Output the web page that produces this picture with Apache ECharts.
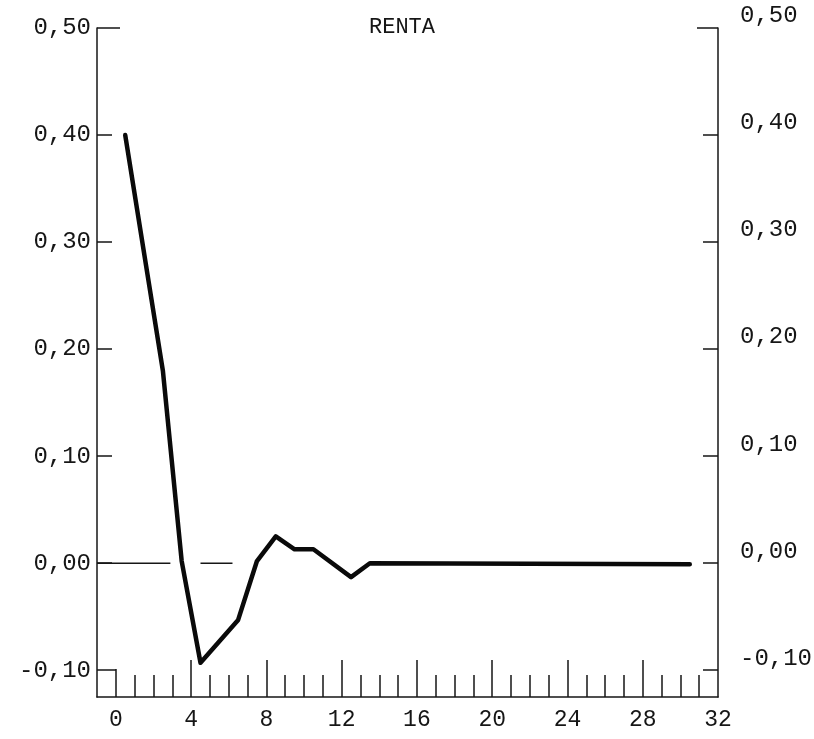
<!DOCTYPE html>
<html>
<head>
<meta charset="utf-8">
<script src="https://cdn.jsdelivr.net/npm/echarts@6/dist/echarts.min.js"></script>
<style>
  html, body { margin: 0; padding: 0; background: #fff; }
  #chart { width: 814px; height: 739px; }
</style>
</head>
<body>
<div id="chart"></div>
<script>
// lag positions of the plotted vertices and the response values
const lags = [0.5, 2.5, 3.5, 4.5, 6.5, 7.5, 8.5, 9.5, 10.5, 12.5, 13.5, 30.5]
const renta = [0.40, 0.18, 0.002, -0.093, -0.053, 0.002, 0.025, 0.013, 0.013, -0.013, 0.0, -0.001]

// tick values
const xLabelTicks = [0, 4, 8, 12, 16, 20, 24, 28, 32]
const xMajorTicks = [4, 8, 12, 16, 20, 24, 28]
const xMinorTicks = [1, 2, 3, 5, 6, 7, 9, 10, 11, 13, 14, 15, 17, 18, 19, 21, 22, 23, 25, 26, 27, 29, 30, 31]
const yLabelTicks = [-0.1, 0, 0.1, 0.2, 0.3, 0.4, 0.5]
const yInnerTicks = [0, 0.1, 0.2, 0.3, 0.4]

// the broken zero reference line (only visible on the left part)
const zeroGuideX = [-1, 2.9, null, 4.5, 6.2]

const ink = '#161616'
const font = 'Liberation Mono'

function fmt(v) {
  return v.toFixed(2).replace('.', ',')
}

function xAxisBase(extra) {
  return Object.assign({
    type: 'value',
    position: 'bottom',
    min: -1,
    max: 32,
    splitLine: { show: false },
    axisLine: { show: false, onZero: false },
    axisLabel: { show: false },
    axisTick: { show: false }
  }, extra)
}

function yAxisBase(extra) {
  return Object.assign({
    type: 'value',
    min: -0.125,
    max: 0.5,
    splitLine: { show: false },
    axisLine: { show: false, onZero: false },
    axisLabel: { show: false },
    axisTick: { show: false }
  }, extra)
}

const tickStyle = { color: ink, width: 1.5 }

const chart = echarts.init(document.getElementById('chart'))
chart.setOption({
  backgroundColor: '#fff',
  animation: false,
  title: {
    text: 'RENTA',
    left: 364,
    top: 11,
    textStyle: { fontFamily: font, fontSize: 22, fontWeight: 'normal', color: ink }
  },
  grid: { left: 97, right: 96, top: 28, bottom: 42, outerBoundsMode: 'none' },
  xAxis: [
    xAxisBase({
      axisLine: { show: true, onZero: false, lineStyle: { color: ink, width: 1.5 } },
      axisLabel: {
        show: true,
        customValues: xLabelTicks,
        showMaxLabel: true,
        margin: 11,
        fontFamily: font,
        fontSize: 23,
        color: ink
      },
      axisTick: { show: true, inside: true, length: 22, customValues: xMinorTicks, lineStyle: tickStyle }
    }),
    xAxisBase({
      axisTick: { show: true, inside: true, length: 37, customValues: xMajorTicks, lineStyle: tickStyle }
    }),
    xAxisBase({
      axisTick: { show: true, inside: true, length: 28, customValues: [0], lineStyle: tickStyle }
    })
  ],
  yAxis: [
    yAxisBase({
      position: 'left',
      axisLine: { show: true, onZero: false, lineStyle: { color: ink, width: 1.5 } },
      axisLabel: {
        show: true,
        customValues: yLabelTicks,
        formatter: fmt,
        margin: 6,
        fontFamily: font,
        fontSize: 24,
        color: ink
      },
      axisTick: { show: true, inside: true, length: 15, customValues: yInnerTicks, lineStyle: tickStyle }
    }),
    yAxisBase({
      position: 'left',
      axisTick: { show: true, inside: true, length: 23, customValues: [0.5], lineStyle: tickStyle }
    }),
    yAxisBase({
      position: 'left',
      axisTick: { show: true, inside: true, length: 19, customValues: [-0.1], lineStyle: tickStyle }
    }),
    yAxisBase({
      position: 'right',
      axisLine: { show: true, onZero: false, lineStyle: { color: ink, width: 1.5 } },
      axisLabel: {
        show: true,
        customValues: yLabelTicks,
        formatter: fmt,
        margin: 22,
        verticalAlign: 'bottom',
        fontFamily: font,
        fontSize: 24,
        color: ink
      },
      axisTick: { show: true, inside: true, length: 15, customValues: yInnerTicks.concat([-0.1]), lineStyle: tickStyle }
    }),
    yAxisBase({
      position: 'right',
      axisTick: { show: true, inside: true, length: 21, customValues: [0.5], lineStyle: tickStyle }
    })
  ],
  series: [
    {
      type: 'line',
      name: 'guide',
      silent: true,
      symbol: 'none',
      connectNulls: false,
      lineStyle: { color: ink, width: 1.5 },
      data: zeroGuideX.map(x => (x === null ? '-' : [x, 0]))
    },
    {
      type: 'line',
      name: 'RENTA',
      symbol: 'none',
      lineStyle: { color: '#0a0a0a', width: 4.5, cap: 'round', join: 'round' },
      data: lags.map((x, i) => [x, renta[i]])
    }
  ]
})
</script>
</body>
</html>
